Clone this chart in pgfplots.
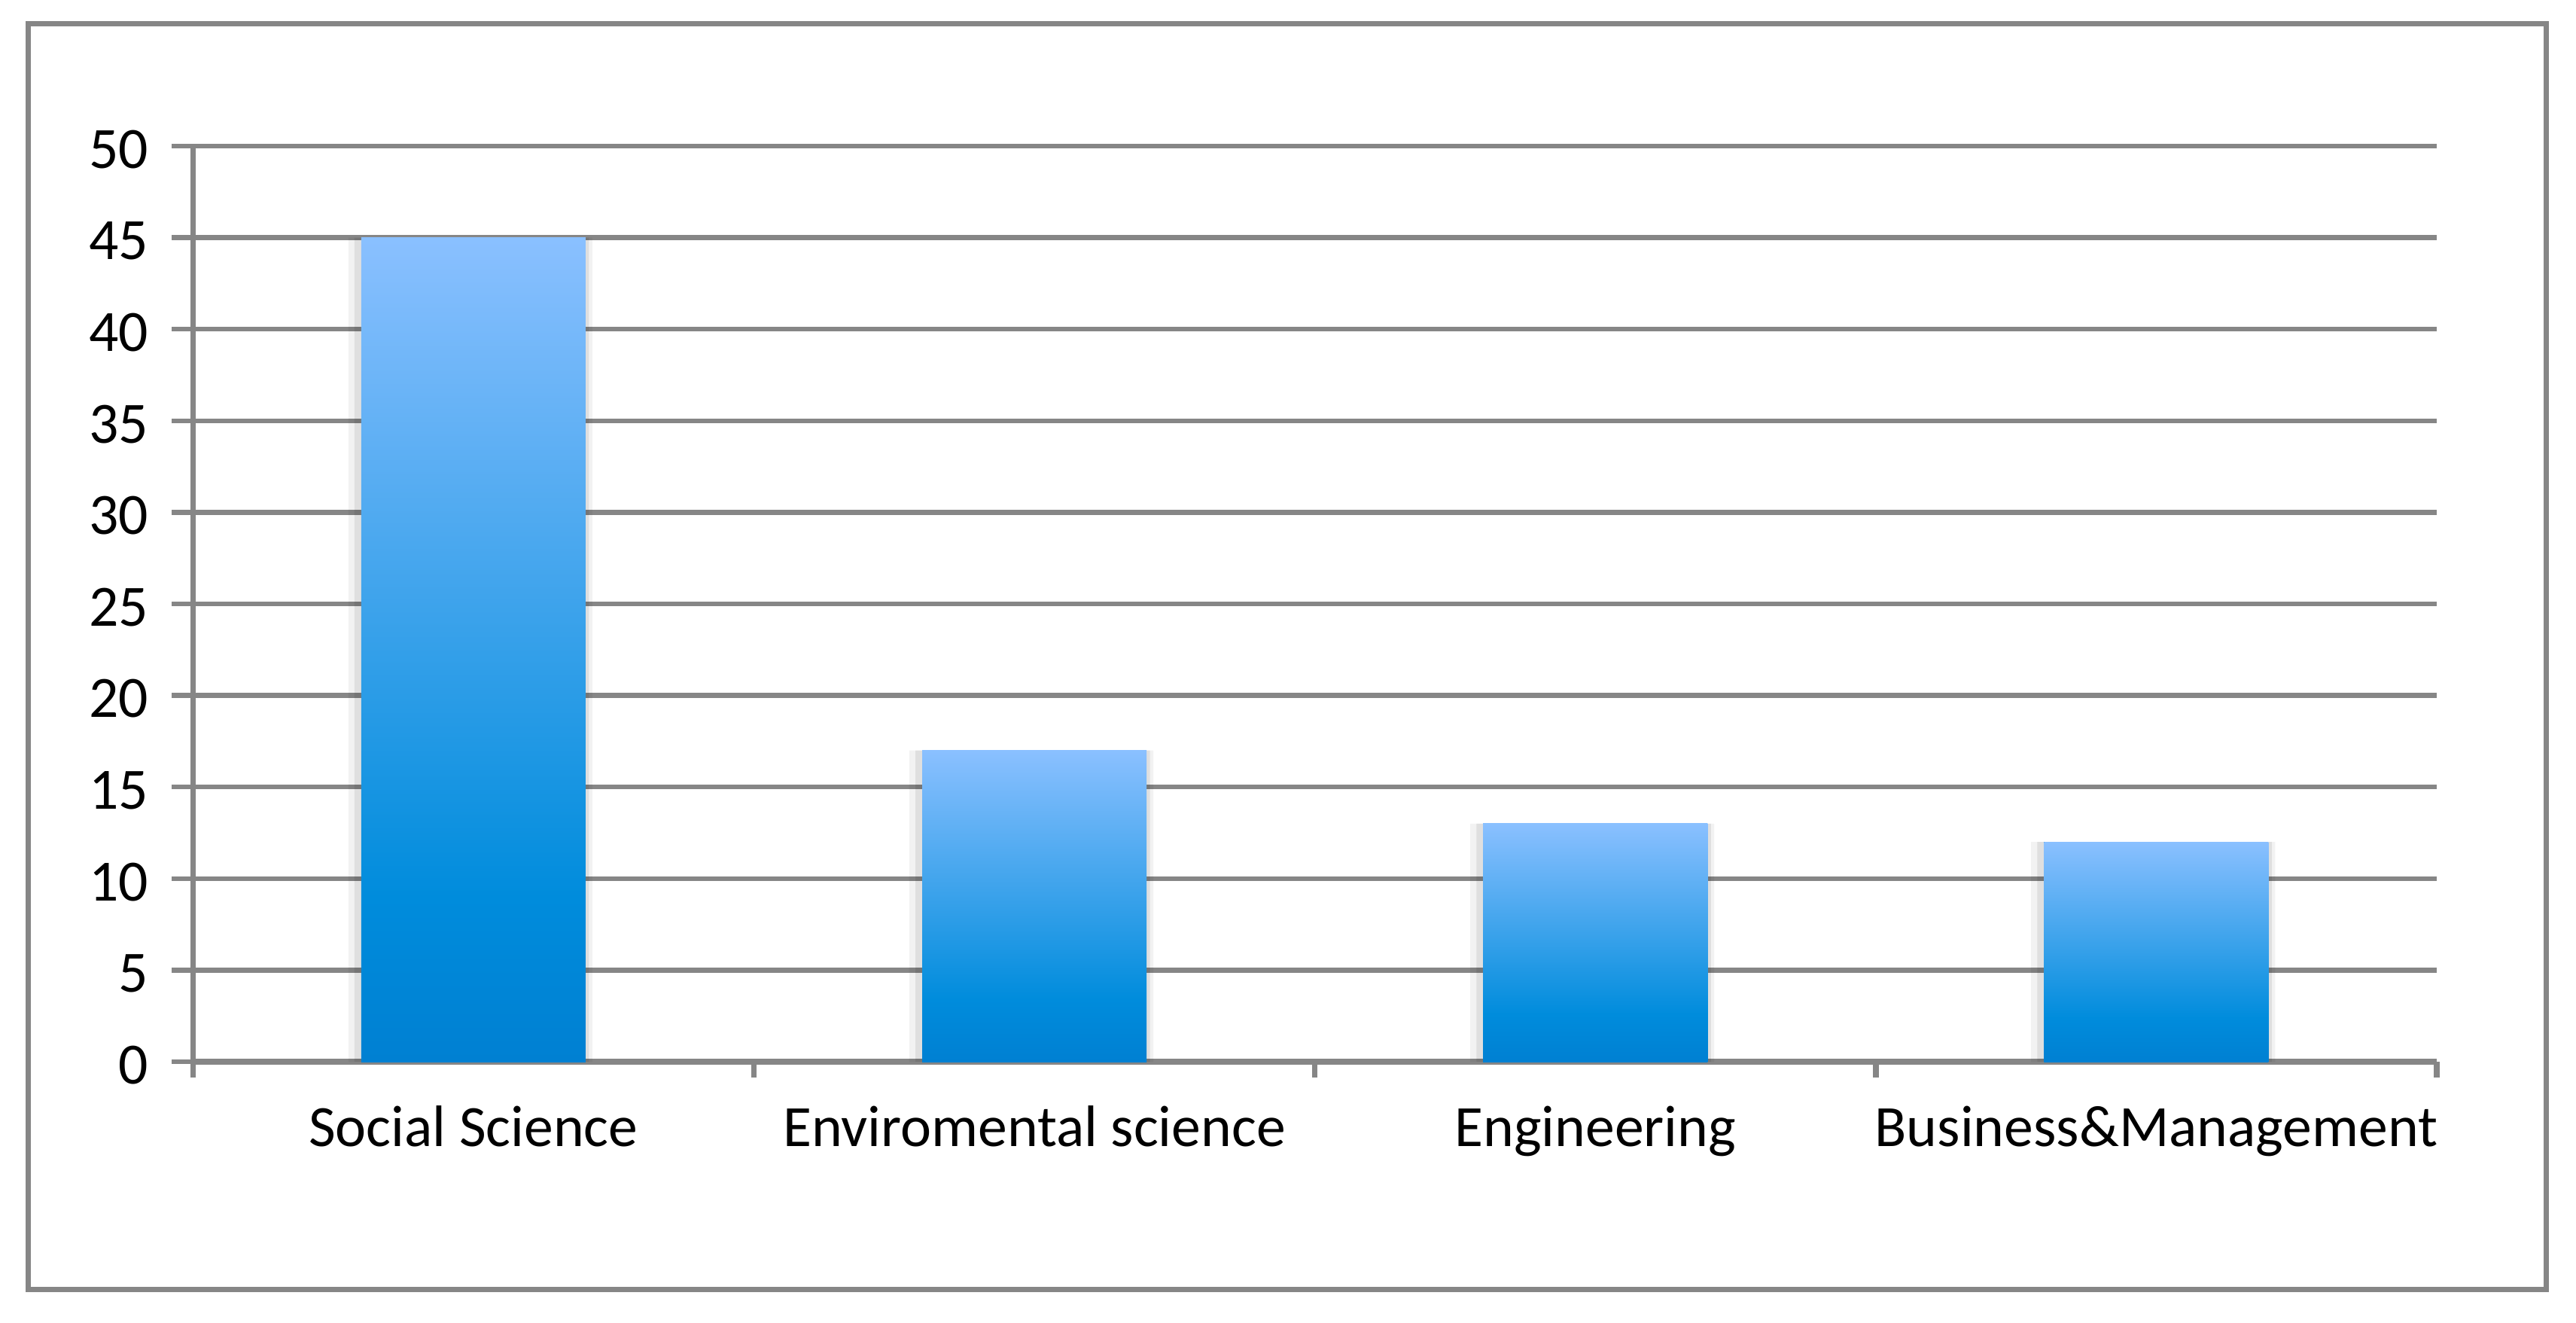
\documentclass[border=0pt]{standalone}
\usepackage{fontspec}
\setmainfont{Carlito}
\usepackage{pgfplots}
\pgfplotsset{compat=1.18}
\definecolor{gridgray}{RGB}{134,134,134}
\definecolor{bartop}{RGB}{138,192,255}
\definecolor{barmid}{RGB}{0,140,220}
\definecolor{barbot}{RGB}{0,128,210}
\pgfdeclareverticalshading{barshade}{100bp}{color(0bp)=(barbot); color(25bp)=(barbot); color(35bp)=(barmid); color(75bp)=(bartop); color(100bp)=(bartop)}
\pgfplotsset{
  shadowA/.style={ybar, bar width=0.435, bar shift=-0.0055, draw=none, fill=black, fill opacity=0.05, forget plot},
  shadowB/.style={ybar, bar width=0.418, bar shift=-0.003, draw=none, fill=black, fill opacity=0.08, forget plot},
  mainbar/.style={ybar, bar width=0.4, bar shift=0, draw=none, fill=barbot, shading=barshade, shade, forget plot},
}
\begin{document}
\begin{tikzpicture}
\fill[white] (-58.75pt,-79.45pt) rectangle (725.4pt,323.1pt);
\useasboundingbox (-58.75pt,-79.45pt) rectangle (725.4pt,323.1pt);
\draw[gridgray, line width=1.6pt] (-50.25pt,-69.4pt) rectangle (716.25pt,315.95pt);
\begin{axis}[
  at={(0pt,0pt)}, anchor=south west,
  scale only axis, width=683pt, height=278.65pt,
  xmin=-0.5, xmax=3.5, ymin=0, ymax=50,
  ytick={0,5,...,50},
  xtick={0,1,2,3},
  xticklabels={Social Science, Enviromental science, Engineering, Business\&Management},
  minor xtick={-0.5,0.5,1.5,2.5,3.5},
  axis lines*=left,
  axis line style={draw=gridgray, line width=1.7pt, -},
  ymajorgrids,
  grid style={draw=gridgray, line width=1.5pt},
  tick align=outside,
  major tick length=6.5pt, minor tick length=4.8pt,
  tick style={draw=gridgray, line width=1.5pt},
  major x tick style={draw=none},
  minor x tick style={line width=1.7pt},
  /pgf/number format/assume math mode=true,
  ticklabel style={font=\fontsize{17.8}{21}\selectfont, text=black},
  yticklabel style={xshift=-3.5pt, yshift=-1pt},
  xticklabel style={text height=12pt, text depth=4pt, yshift=-3.8pt},
  clip=false,
]
\addplot[shadowA] coordinates {(0,45) (1,17) (2,13) (3,12)};
\addplot[shadowB] coordinates {(0,45) (1,17) (2,13) (3,12)};
\addplot[mainbar] coordinates {(0,45)};
\addplot[mainbar] coordinates {(1,17)};
\addplot[mainbar] coordinates {(2,13)};
\addplot[mainbar] coordinates {(3,12)};
\end{axis}
\end{tikzpicture}
\end{document}
